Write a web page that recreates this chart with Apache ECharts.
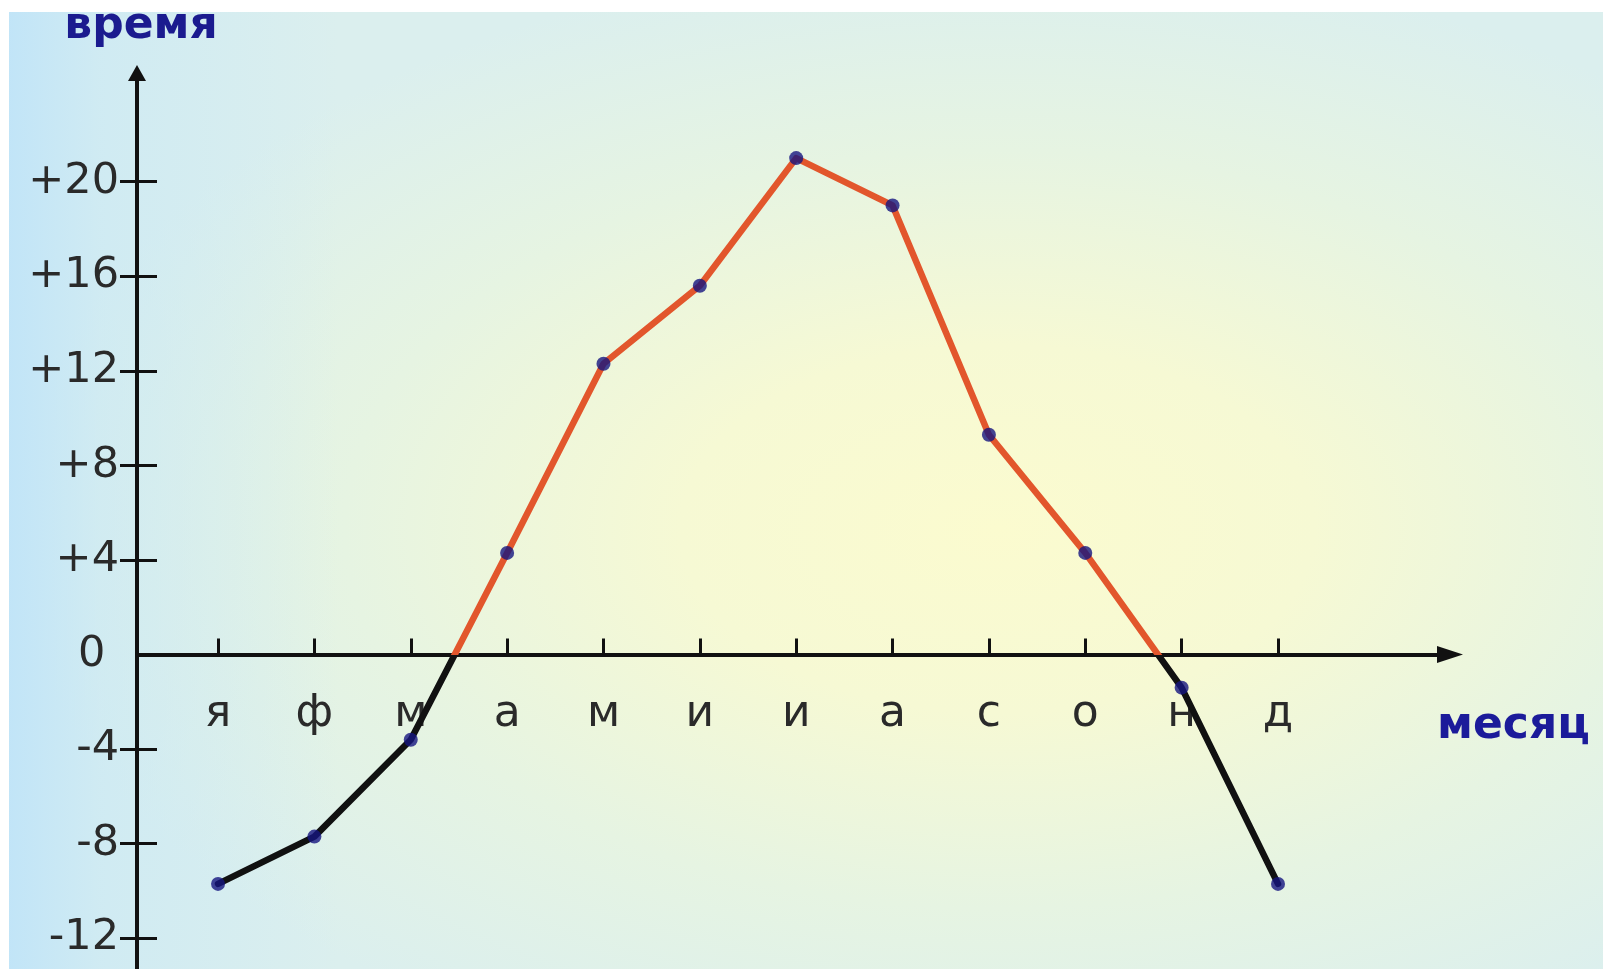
<!DOCTYPE html>
<html>
<head>
<meta charset="utf-8">
<script src="https://cdn.jsdelivr.net/npm/echarts@6/dist/echarts.min.js"></script>
<style>
  html, body { margin: 0; padding: 0; background: #ffffff; }
  #wrap { position: relative; width: 1603px; height: 969px; overflow: hidden; background: #ffffff; }
  #bg {
    position: absolute; left: 9px; top: 12px; right: 0; bottom: 0;
    background:
      linear-gradient(to right, rgba(192,228,248,0.95) 0px, rgba(200,232,246,0.6) 90px, rgba(210,236,242,0.0) 330px),
      radial-gradient(ellipse 62% 60% at 62% 54%, #fbfbcf 0%, #f6f9d4 32%, #e6f4e2 66%, #dbefee 100%);
  }
  #chart { position: absolute; left: 0; top: 0; width: 1603px; height: 969px; }
</style>
</head>
<body>
<div id="wrap">
  <div id="bg"></div>
  <div id="chart"></div>
</div>
<script>
// Months (Cyrillic initials) and their positions on the month axis
const monthLabels = ['я', 'ф', 'м', 'а', 'м', 'и', 'и', 'а', 'с', 'о', 'н', 'д'];
const monthIndex = [1, 2, 3, 4, 5, 6, 7, 8, 9, 10, 11, 12];
// Temperature values
const temps = [-9.7, -7.7, -3.6, 4.3, 12.3, 15.6, 21.0, 19.0, 9.3, 4.3, -1.4, -9.7];
// Y tick values
const yTicks = [-12, -8, -4, 0, 4, 8, 12, 16, 20];

const points = monthIndex.map((m, i) => [m, temps[i]]);

const Y_MIN = -13.3, Y_MAX = 24.6;
const GRID_TOP = 73, GRID_BOTTOM = 0, H = 969;
const gridH = H - GRID_TOP - GRID_BOTTOM;
// distance (px) from the grid bottom up to the value 0, so the month axis sits on 0
const zeroOffset = gridH * (0 - Y_MIN) / (Y_MAX - Y_MIN);

const chart = echarts.init(document.getElementById('chart'), null, { renderer: 'canvas' });

const tickFont = 'DejaVu Sans';

chart.setOption({
  backgroundColor: 'transparent',
  animation: false,
  grid: { left: 137, right: 153, top: GRID_TOP, bottom: GRID_BOTTOM, containLabel: false, outerBoundsMode: 'none' },
  xAxis: {
    type: 'value',
    min: 0.159,
    max: 13.785,
    position: 'bottom',
    offset: -zeroOffset,
    splitLine: { show: false },
    axisLine: {
      show: true, onZero: false,
      lineStyle: { color: '#111', width: 4 },
      symbol: ['none', 'triangle'],
      symbolSize: [17, 26]
    },
    axisTick: {
      show: true, inside: true, length: 16,
      customValues: monthIndex,
      lineStyle: { color: '#111', width: 3 }
    },
    axisLabel: {
      show: true,
      customValues: monthIndex,
      margin: 38,
      fontFamily: tickFont,
      fontSize: 44,
      color: '#2a2a2a',
      formatter: v => monthLabels[Math.round(v) - 1] || ''
    }
  },
  yAxis: [
    {
      type: 'value',
      min: Y_MIN,
      max: Y_MAX,
      name: 'время',
      nameLocation: 'end',
      nameGap: 46,
      nameTextStyle: {
        fontFamily: 'DejaVu Sans', fontWeight: 'bold', fontSize: 44,
        color: '#1b1b8f', verticalAlign: 'middle', align: 'center',
        padding: [0, 0, 0, 8]
      },
      splitLine: { show: false },
      axisLine: {
        show: true, onZero: false,
        lineStyle: { color: '#111', width: 4 },
        symbol: ['none', 'triangle'],
        symbolSize: [18, 16]
      },
      axisTick: {
        show: true, inside: false, length: 17,
        customValues: yTicks.filter(v => v !== 0),
        lineStyle: { color: '#111', width: 3 }
      },
      axisLabel: {
        show: true,
        customValues: yTicks,
        margin: 18,
        fontFamily: tickFont,
        fontSize: 43,
        color: '#2a2a2a',
        formatter: v => (v > 0 ? '+' + v : (v === 0 ? '0 ' : String(v)))
      }
    },
    {
      type: 'value',
      min: Y_MIN,
      max: Y_MAX,
      position: 'left',
      splitLine: { show: false },
      axisLine: { show: false, onZero: false },
      axisTick: {
        show: true, inside: true, length: 20,
        customValues: yTicks.filter(v => v !== 0),
        lineStyle: { color: '#111', width: 3 }
      },
      axisLabel: { show: false }
    }
  ],
  visualMap: {
    type: 'piecewise',
    show: false,
    seriesIndex: 0,
    dimension: 1,
    pieces: [
      { gte: -100, lt: 0, color: '#111111' },
      { gte: 0, lte: 100, color: '#e2562c' }
    ]
  },
  graphic: [
    {
      type: 'text',
      left: 1437,
      top: 705,
      style: {
        text: 'месяц',
        fontFamily: 'DejaVu Sans', fontWeight: 'bold', fontSize: 44,
        fill: '#1b1b9a'
      }
    }
  ],
  series: [
    {
      type: 'line',
      data: points,
      showSymbol: false,
      lineStyle: { width: 6.5, join: 'round', cap: 'round' },
      z: 3
    },
    {
      type: 'scatter',
      data: points,
      symbol: 'circle',
      symbolSize: 14,
      itemStyle: { color: '#15157f' },
      z: 4
    }
  ]
});
</script>
</body>
</html>
